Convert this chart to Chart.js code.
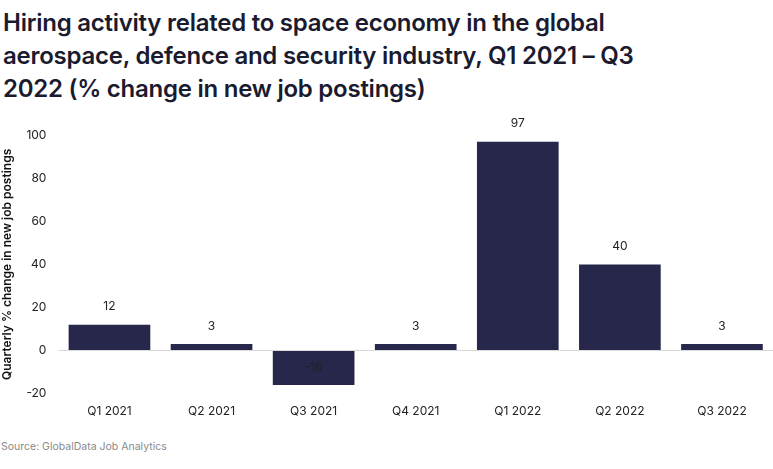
<!DOCTYPE html>
<html>
<head>
<meta charset="utf-8">
<script src="https://cdn.jsdelivr.net/npm/chart.js@4"></script>
<style>
  html, body { margin: 0; padding: 0; background: #fff; }
  body { width: 773px; height: 469px; position: relative; overflow: hidden; font-family: Inter, "Noto Sans", sans-serif; }
  #title { position: absolute; left: 3px; top: 6px; width: 720px; font-size: 24px; font-weight: 600; line-height: 33px; color: #1b1b2f; letter-spacing: -0.25px; }
  #wrap { position: absolute; left: 0; top: 116px; width: 773px; height: 306px; }
  #source { position: absolute; left: 1px; top: 440px; font-size: 10.5px; color: #8a8a8a; }
</style>
</head>
<body>
<div id="title">Hiring activity related to space economy in the global<br>aerospace, defence and security industry, Q1 2021 – Q3<br>2022 (% change in new job postings)</div>
<div id="wrap"><canvas id="chart"></canvas></div>
<div id="source">Source: GlobalData Job Analytics</div>
<script>
const quarters = ["Q1 2021", "Q2 2021", "Q3 2021", "Q4 2021", "Q1 2022", "Q2 2022", "Q3 2022"];
const changes = [12, 3, -16, 3, 97, 40, 3];
const yTicks = [-20, 0, 20, 40, 60, 80, 100];

// value labels sit a fixed distance above the end of each bar
const barLabels = {
    id: "barLabels",
    afterDatasetsDraw(chart) {
        const ctx = chart.ctx;
        const meta = chart.getDatasetMeta(0);
        ctx.save();
        ctx.font = "12px Inter, sans-serif";
        ctx.fillStyle = "#222";
        ctx.textAlign = "center";
        ctx.textBaseline = "middle";
        meta.data.forEach((bar, i) => {
            ctx.fillText(String(changes[i]), bar.x, bar.y - 18);
        });
        ctx.restore();
    }
};

new Chart(document.getElementById("chart"), {
    type: "bar",
    data: {
        labels: quarters,
        datasets: [{
            data: changes,
            backgroundColor: "#27274b",
            barPercentage: 0.8,
            categoryPercentage: 1.0
        }]
    },
    options: {
        responsive: true,
        maintainAspectRatio: false,
        animation: false,
        layout: { padding: { top: 14, right: 0, left: 0, bottom: 0 } },
        plugins: { legend: { display: false }, tooltip: { enabled: false } },
        scales: {
            x: {
                grid: { display: false },
                border: { display: false },
                ticks: { color: "#222", font: { size: 12, family: "Inter" }, padding: 3 }
            },
            y: {
                min: -20,
                max: 100,
                afterBuildTicks: axis => { axis.ticks = yTicks.map(v => ({ value: v })); },
                grid: {
                    color: c => c.tick && c.tick.value === 0 ? "#d9d9d9" : "transparent",
                    drawTicks: false
                },
                border: { display: false },
                ticks: { color: "#222", font: { size: 12, family: "Inter" }, padding: 12 },
                title: {
                    display: true,
                    text: "Quarterly % change in new job postings",
                    color: "#111",
                    font: { size: 12, weight: "600", family: "Inter" },
                    padding: { top: 0, bottom: 0 }
                }
            }
        }
    },
    plugins: [barLabels]
});
</script>
</body>
</html>
